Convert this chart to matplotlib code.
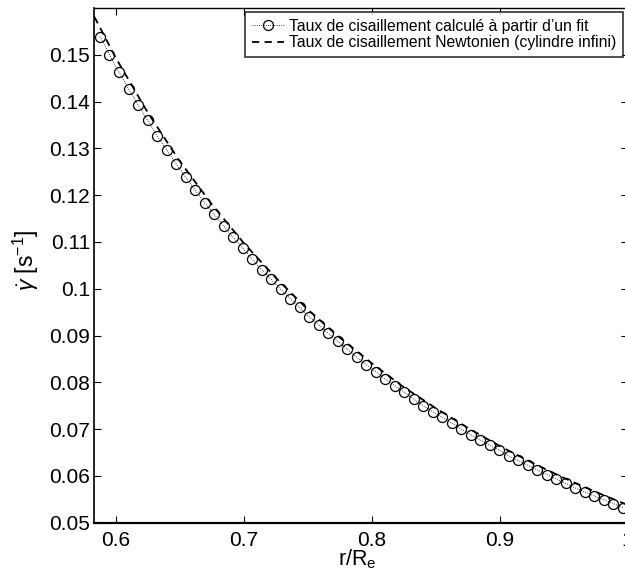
import matplotlib
matplotlib.use("Agg")
import matplotlib.pyplot as plt
from matplotlib.ticker import FixedLocator, FixedFormatter

plt.rcParams['font.family'] = ['Liberation Sans', 'DejaVu Sans']
plt.rcParams['mathtext.fontset'] = 'custom'
plt.rcParams['mathtext.rm'] = 'Liberation Sans'
plt.rcParams['mathtext.it'] = 'Liberation Sans:italic'

# --- data ---
r_fit = [0.5878, 0.5952, 0.6026, 0.6101, 0.6175, 0.6249, 0.6324, 0.6398,
         0.6472, 0.6546, 0.6621, 0.6695, 0.6769, 0.6844, 0.6918, 0.6992,
         0.7066, 0.7141, 0.7215, 0.7289, 0.7364, 0.7438, 0.7512, 0.7586,
         0.7661, 0.7735, 0.7809, 0.7884, 0.7958, 0.8032, 0.8106, 0.8181,
         0.8255, 0.8329, 0.8404, 0.8478, 0.8552, 0.8626, 0.8701, 0.8775,
         0.8849, 0.8924, 0.8998, 0.9072, 0.9146, 0.9221, 0.9295, 0.9369,
         0.9444, 0.9518, 0.9592, 0.9666, 0.9741, 0.9815, 0.9889, 0.9962]
gamma_fit = [0.1539, 0.1500, 0.1463, 0.1427, 0.1393, 0.1360, 0.1327, 0.1297,
             0.1267, 0.1239, 0.1211, 0.1184, 0.1159, 0.1134, 0.1110, 0.1087,
             0.1063, 0.1041, 0.1020, 0.0999, 0.0979, 0.0960, 0.0940, 0.0923,
             0.0905, 0.0888, 0.0871, 0.0854, 0.0838, 0.0823, 0.0807, 0.0793,
             0.0779, 0.0764, 0.0750, 0.0737, 0.0725, 0.0713, 0.0700, 0.0688,
             0.0677, 0.0665, 0.0655, 0.0643, 0.0633, 0.0623, 0.0613, 0.0603,
             0.0593, 0.0584, 0.0574, 0.0566, 0.0557, 0.0549, 0.0541, 0.0532]

r_newt = [0.5834, 0.600, 0.625, 0.650, 0.675, 0.700, 0.725, 0.750, 0.775,
          0.800, 0.825, 0.850, 0.875, 0.900, 0.925, 0.950, 0.975, 1.000]
gamma_newt = [0.1581, 0.1494, 0.1377, 0.1273, 0.1181, 0.1098, 0.1024, 0.0956,
              0.0896, 0.0841, 0.0790, 0.0745, 0.0703, 0.0664, 0.0629, 0.0596,
              0.0566, 0.0538]

xticks = [0.6, 0.7, 0.8, 0.9, 1.0]
xtick_labels = ['0.6', '0.7', '0.8', '0.9', '1']
yticks = [0.05, 0.06, 0.07, 0.08, 0.09, 0.10, 0.11, 0.12, 0.13, 0.14, 0.15]
ytick_labels = ['0.05', '0.06', '0.07', '0.08', '0.09', '0.1', '0.11',
                '0.12', '0.13', '0.14', '0.15']

label_fit = "Taux de cisaillement calculé à partir d\u2019un fit"
label_newt = "Taux de cisaillement Newtonien (cylindre infini)"

W, H = 625, 579
AX_L, AX_W = 94.4, 533.1
AX_T, AX_B = 8.0, 522.7
fig = plt.figure(figsize=(W / 100, H / 100), dpi=100)
ax = fig.add_axes([AX_L / W, 1 - AX_B / H, AX_W / W, (AX_B - AX_T) / H])

ax.plot(r_fit, gamma_fit, linestyle=':', color='black', linewidth=0.6,
        marker='o', markersize=7.2, markerfacecolor='none',
        markeredgecolor='black', markeredgewidth=0.9, label=label_fit)
ax.plot(r_newt, gamma_newt, linestyle=(0, (4, 3)), color='black',
        linewidth=1.3, label=label_newt)

ax.set_xlim(0.5834, 1.0)
ax.set_ylim(0.05, 0.16)
ax.xaxis.set_major_locator(FixedLocator(xticks))
ax.xaxis.set_major_formatter(FixedFormatter(xtick_labels))
ax.yaxis.set_major_locator(FixedLocator(yticks))
ax.yaxis.set_major_formatter(FixedFormatter(ytick_labels))
ax.tick_params(direction='in', length=5, width=0.8, top=True, right=True,
               labelsize=15)
ax.tick_params(axis='x', pad=6)
ax.tick_params(axis='y', pad=3)
for s in ax.spines.values():
    s.set_linewidth(1.0)
ax.spines['bottom'].set_linewidth(1.6)
ax.spines['left'].set_linewidth(1.2)

ax.set_xlabel(r'r/R$_\mathregular{e}$', fontsize=15.5)
ax.xaxis.set_label_coords((357 - AX_L) / AX_W, -25.0 / (AX_B - AX_T))
ax.set_ylabel(r'$\dot{\gamma}$ [s$^{\mathregular{-1}}$]', fontsize=16.5)
ax.yaxis.set_label_coords((41 - AX_L) / AX_W, (AX_B - 260) / (AX_B - AX_T))

leg = ax.legend(loc='upper right', bbox_to_anchor=(623 / W, 1 - 11.7 / H),
                bbox_transform=fig.transFigure, borderaxespad=0,
                fontsize=11.3, frameon=True, fancybox=False,
                handlelength=2.06, handletextpad=0.3, labelspacing=0.1,
                borderpad=0.45)
leg.get_frame().set_edgecolor('black')
leg.get_frame().set_linewidth(1.2)

fig.savefig('out.png', dpi=100, facecolor='white')
